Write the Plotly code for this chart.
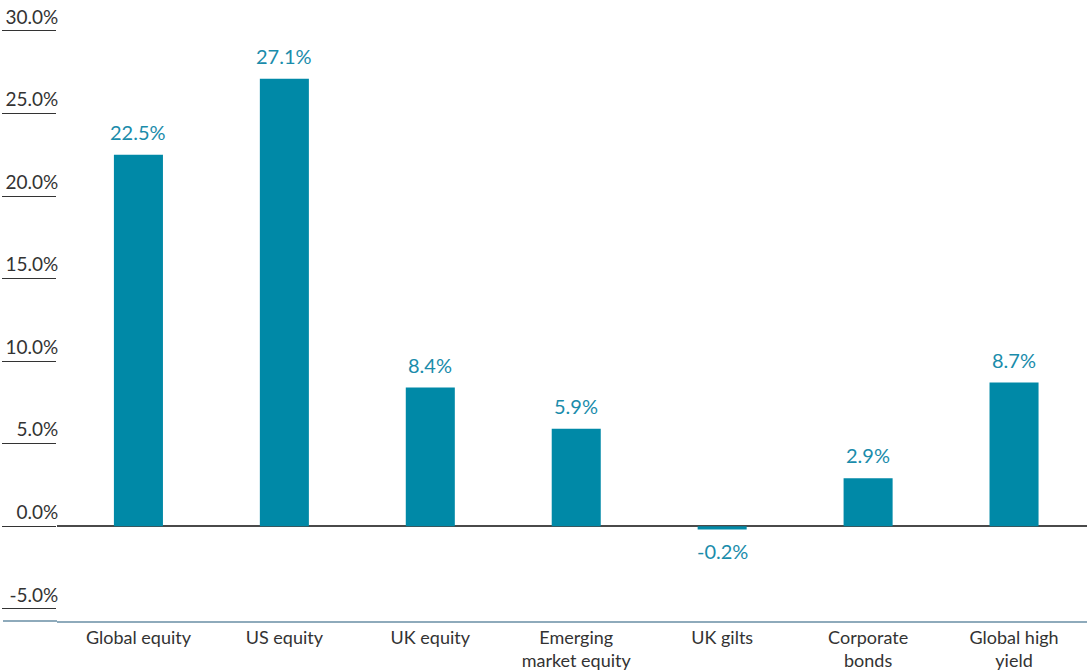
import plotly.graph_objects as go

categories = ["Global equity", "US equity", "UK equity", "Emerging<br>market equity",
              "UK gilts", "Corporate<br>bonds", "Global high<br>yield"]
values = [22.5, 27.1, 8.4, 5.9, -0.2, 2.9, 8.7]
tick_vals = [-5, 0, 5, 10, 15, 20, 25, 30]
tick_text = ["-5.0%", "0.0%", "5.0%", "10.0%", "15.0%", "20.0%", "25.0%", "30.0%"]

BAR = "#0089a7"
LABEL = "#1a8cab"
FONT = "Lato, 'Open Sans', sans-serif"

W, H = 1087, 672
ML = 57

fig = go.Figure(go.Bar(
    x=list(range(len(categories))),
    y=values,
    marker=dict(color=BAR, line=dict(width=0)),
    width=0.336,
    cliponaxis=False,
    hoverinfo="skip",
))

for i, v in enumerate(values):
    fig.add_annotation(
        x=i, y=v, xref="x", yref="y",
        text=f"{v:.1f}%", showarrow=False,
        yanchor="bottom" if v >= 0 else "top",
        yshift=9 if v >= 0 else -7,
        font=dict(color=LABEL, size=20, family=FONT),
    )

plot_w = W - ML
# extend the bottom axis line across the label column
fig.add_shape(type="line", xref="paper", yref="paper",
              x0=-(ML - 3) / plot_w, x1=0, y0=0, y1=0,
              line=dict(color="#8eaabb", width=2))

fig.update_layout(
    width=W, height=H,
    margin=dict(l=ML, r=0, t=5, b=51),
    paper_bgcolor="white", plot_bgcolor="white",
    showlegend=False,
    font=dict(family=FONT, color="#333333"),
    xaxis=dict(
        range=[-0.558, 6.5],
        tickmode="array", tickvals=list(range(len(categories))), ticktext=categories,
        tickfont=dict(size=18, color="#333333"),
        showgrid=False, zeroline=False,
        showline=True, linecolor="#8eaabb", linewidth=2,
        ticks="", ticklabelstandoff=-1,
        automargin=False,
    ),
    yaxis=dict(
        range=[-5.74, 31.57],
        tickmode="array", tickvals=tick_vals, ticktext=tick_text,
        tickfont=dict(size=19, color="#333333"),
        ticks="outside", ticklen=54, tickcolor="#333333", tickwidth=1.2,
        ticklabelposition="outside top",
        ticklabelstandoff=-6,
        showgrid=False, showline=False,
        zeroline=True, zerolinecolor="#4a4a4a", zerolinewidth=1.5,
        automargin=False,
    ),
)

fig.write_html("out.html", config={"displayModeBar": False},
               post_script="document.body.style.margin='0';")
